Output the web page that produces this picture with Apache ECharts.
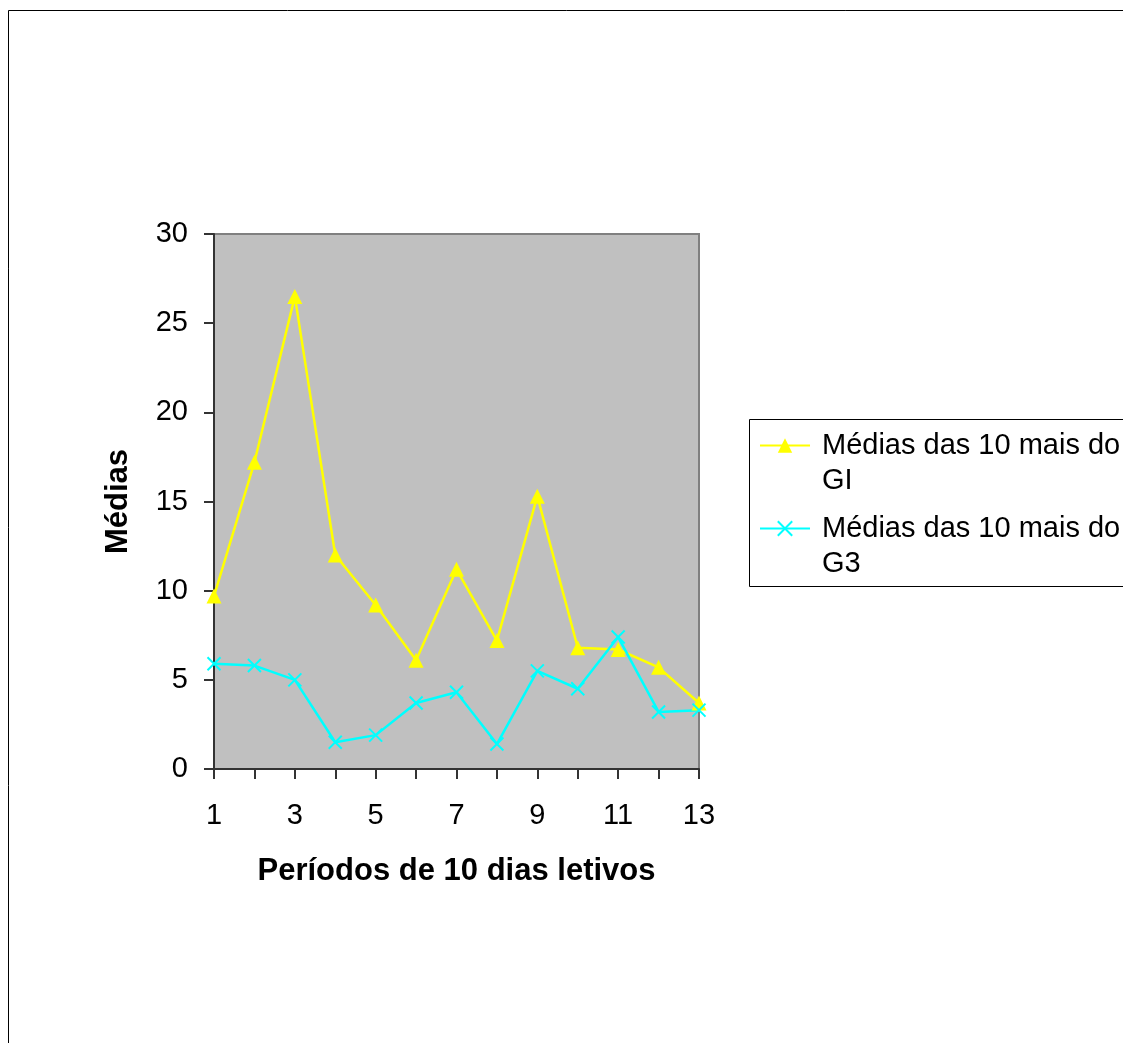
<!DOCTYPE html>
<html>
<head>
<meta charset="utf-8">
<script src="https://cdn.jsdelivr.net/npm/echarts@6/dist/echarts.min.js"></script>
<style>
html,body{margin:0;padding:0;background:#fff;}
#chart{width:1123px;height:1043px;}
</style>
</head>
<body>
<div id="chart"></div>
<script>
var categories = ['1','2','3','4','5','6','7','8','9','10','11','12','13'];
var seriesNames = ['Médias das 10 mais do GI', 'Médias das 10 mais do G3'];
var valuesGI = [9.7, 17.2, 26.5, 12.0, 9.2, 6.1, 11.2, 7.2, 15.3, 6.8, 6.7, 5.7, 3.7];
var valuesG3 = [5.9, 5.8, 5.0, 1.5, 1.9, 3.7, 4.3, 1.4, 5.5, 4.5, 7.4, 3.2, 3.3];
var yTicks = [0, 5, 10, 15, 20, 25, 30];
var xTitle = 'Períodos de 10 dias letivos';
var yTitle = 'Médias';

var FONT = '"Liberation Sans", Arial, sans-serif';
var chart = echarts.init(document.getElementById('chart'), null, {renderer: 'canvas'});

var option = {
  animation: false,
  backgroundColor: '#fff',
  textStyle: {fontFamily: FONT},
  graphic: [
    {type: 'rect', silent: true, z: 100,
     shape: {x: 8.5, y: 10.5, width: 2000, height: 2000},
     style: {fill: 'none', stroke: '#000', lineWidth: 1}},
    {type: 'rect', silent: true, z: 100,
     shape: {x: 749.5, y: 419.5, width: 600, height: 167},
     style: {fill: 'none', stroke: '#000', lineWidth: 1}}
  ],
  grid: {
    left: 214, top: 234, right: 424, bottom: 274,
    show: true, backgroundColor: '#C0C0C0', borderColor: '#808080', borderWidth: 2
  },
  legend: {
    orient: 'vertical',
    left: 759, top: 393,
    padding: 0,
    itemGap: -22,
    itemWidth: 50, itemHeight: 18,
    selectedMode: false,
    data: seriesNames,
    formatter: function (name) {
      var i = name.lastIndexOf(' ');
      return ' \n' + name.slice(0, i) + '\n' + name.slice(i + 1);
    },
    textStyle: {fontFamily: FONT, fontSize: 29, lineHeight: 35, color: '#000', padding: [0, 0, 0, 7]}
  },
  xAxis: {
    type: 'category',
    data: categories,
    boundaryGap: false,
    name: xTitle,
    nameLocation: 'middle',
    nameGap: 87,
    nameTextStyle: {fontFamily: FONT, fontSize: 31, fontWeight: 'bold', color: '#000'},
    axisLine: {lineStyle: {color: '#333', width: 2}},
    axisTick: {show: true, interval: 0, length: 10, lineStyle: {color: '#333', width: 2}},
    axisLabel: {interval: 1, fontFamily: FONT, fontSize: 29, color: '#000', margin: 32},
    splitLine: {show: false}
  },
  yAxis: {
    type: 'value',
    min: yTicks[0], max: yTicks[yTicks.length - 1], interval: yTicks[1] - yTicks[0],
    name: yTitle,
    nameLocation: 'middle',
    nameGap: 80,
    nameTextStyle: {fontFamily: FONT, fontSize: 31, fontWeight: 'bold', color: '#000'},
    axisLine: {show: true, lineStyle: {color: '#333', width: 2}},
    axisTick: {show: true, length: 10, lineStyle: {color: '#333', width: 2}},
    axisLabel: {fontFamily: FONT, fontSize: 29, color: '#000', margin: 26},
    splitLine: {show: false}
  },
  series: [
    {
      name: seriesNames[0], type: 'line', data: valuesGI,
      symbol: 'triangle', symbolSize: 15, showSymbol: true,
      lineStyle: {color: '#FFFF00', width: 2.5},
      itemStyle: {color: '#FFFF00', borderWidth: 0}
    },
    {
      name: seriesNames[1], type: 'line', data: valuesG3,
      symbol: 'path://M0,0L10,10M10,0L0,10', symbolSize: 13, showSymbol: true,
      lineStyle: {color: '#00FFFF', width: 2.5},
      itemStyle: {color: '#00FFFF', borderColor: '#00FFFF', borderWidth: 2}
    }
  ]
};
chart.setOption(option);
</script>
</body>
</html>
